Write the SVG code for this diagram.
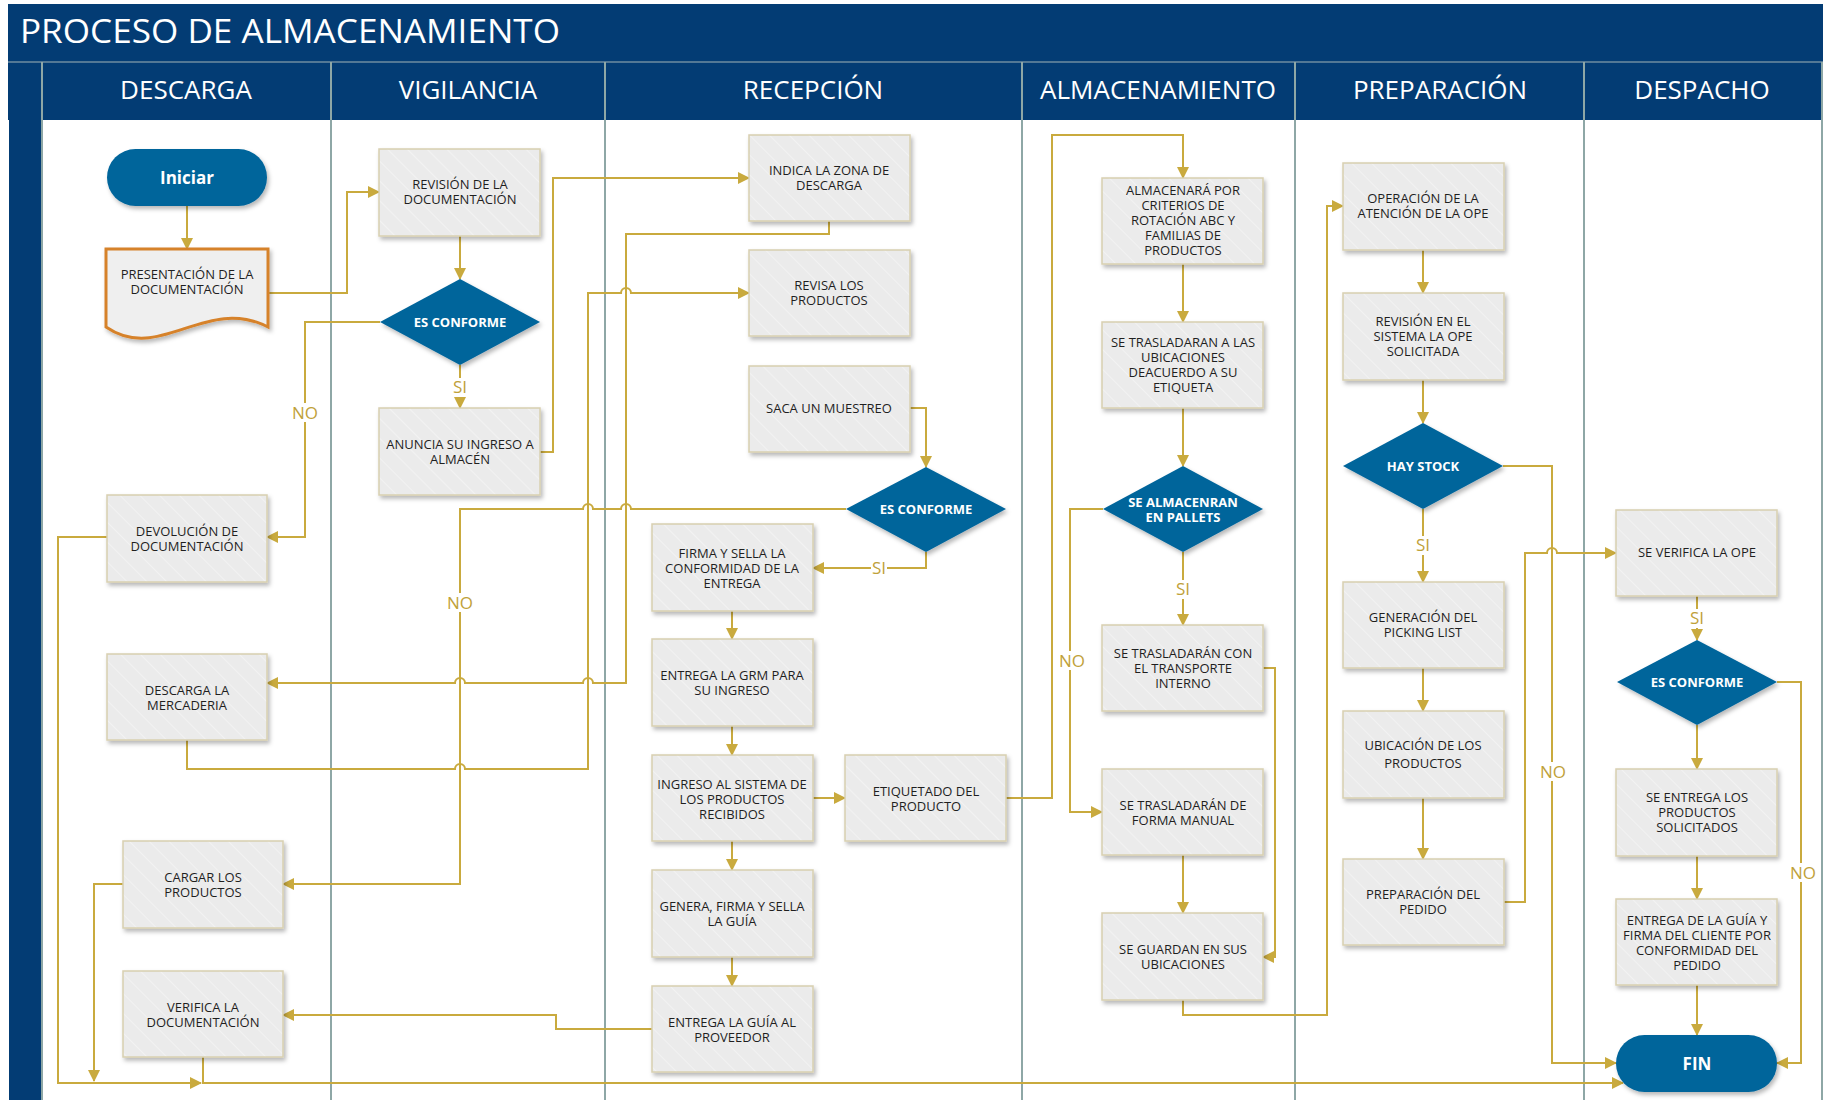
<svg xmlns="http://www.w3.org/2000/svg" width="1827" height="1100" viewBox="0 0 1827 1100">
  <defs>
    <pattern id="hatch" patternUnits="userSpaceOnUse" width="14" height="14" patternTransform="rotate(-45)">
      <rect width="14" height="14" fill="#ebebeb"/>
      <line x1="0" y1="0" x2="0" y2="14" stroke="#f2f2f2" stroke-width="2"/>
    </pattern>
    <filter id="sh" x="-10%" y="-10%" width="125%" height="130%">
      <feDropShadow dx="2" dy="3" stdDeviation="2" flood-color="#000" flood-opacity="0.28"/>
    </filter>
    <marker id="ah" markerUnits="userSpaceOnUse" markerWidth="12" markerHeight="12" refX="11" refY="6" orient="auto">
      <path d="M0,0 L12,6 L0,12 Z" fill="#c9aa3e"/>
    </marker>
  </defs>
  <style>
    .band{fill:#033c74}
    .lane{stroke:#8ea7a6;stroke-width:2;fill:none}
    .hdr{font-family:"Open Sans","Liberation Sans",sans-serif;font-size:26px;fill:#ffffff;text-anchor:middle}
    .box{fill:url(#hatch);stroke:#d8d0b0;stroke-width:1.5;filter:url(#sh)}
    .doc{fill:#efefef;stroke:#d6822c;stroke-width:3;filter:url(#sh)}
    .dec{fill:#04659b;filter:url(#sh)}
    .t{font-family:"Open Sans","Liberation Sans",sans-serif;font-size:13px;fill:#1f1f1f;text-anchor:middle}
    .tw{font-family:"Open Sans","Liberation Sans",sans-serif;font-size:13px;font-weight:700;fill:#ffffff;text-anchor:middle}
    .tb{font-family:"Open Sans","Liberation Sans",sans-serif;font-size:17px;font-weight:700;fill:#ffffff;text-anchor:middle}
    .conn path{fill:none;stroke:#c9aa3e;stroke-width:2}
    .conn path.a{marker-end:url(#ah)}
    .lbl rect{fill:#ffffff}
    .lbl text{font-family:"Open Sans","Liberation Sans",sans-serif;font-size:17px;fill:#bfa13a;text-anchor:middle}
  </style>

  <!-- pool frame -->
  <rect x="0" y="0" width="1827" height="1100" fill="#ffffff"/>
  <rect class="band" x="8" y="4" width="1815" height="58"/>
  <rect class="band" x="8" y="62" width="1815" height="58"/>
  <rect class="band" x="9" y="62" width="33" height="1038"/>
  <line x1="8" y1="62" x2="1823" y2="62" stroke="#6f8ca0" stroke-width="1.5"/>
  <text x="20" y="43" font-family="'Open Sans','Liberation Sans',sans-serif" font-size="32" fill="#ffffff" textLength="540" lengthAdjust="spacingAndGlyphs">PROCESO DE ALMACENAMIENTO</text>

  <!-- lanes -->
  <g id="lanes">
    <path class="lane" d="M42,62 V1100 M331,62 V1100 M605,62 V1100 M1022,62 V1100 M1295,62 V1100 M1584,62 V1100 M1822,62 V1100"/>
    <text class="hdr" x="186" y="99">DESCARGA</text>
    <text class="hdr" x="468" y="99">VIGILANCIA</text>
    <text class="hdr" x="813" y="99">RECEPCIÓN</text>
    <text class="hdr" x="1158" y="99">ALMACENAMIENTO</text>
    <text class="hdr" x="1440" y="99">PREPARACIÓN</text>
    <text class="hdr" x="1702" y="99">DESPACHO</text>
  </g>

  <!-- connectors -->
  <g id="connectors" class="conn">
    <path class="a" d="M187,206 V249"/>
    <path class="a" d="M268,293 H347 V192 H379"/>
    <path class="a" d="M460,236 V279"/>
    <path class="a" d="M460,365 V408"/>
    <path class="a" d="M380,322 H305 V537 H267"/>
    <path class="a" d="M107,537 H58 V1083 H201"/>
    <path class="a" d="M123,884 H94 V1081"/>
    <path class="a" d="M540,452 H553 V178 H749"/>
    <path class="a" d="M829,221 V234 H626 V683 H593 A5,5 0 0 0 583,683 H465 A5,5 0 0 0 455,683 H267"/>
    <path class="a" d="M187,740 V769 H455 A5,5 0 0 1 465,769 H588 V293 H621 A5,5 0 0 1 631,293 H749"/>
    <path class="a" d="M910,408 H926 V467"/>
    <path class="a" d="M846,509 H631 A5,5 0 0 0 621,509 H593 A5,5 0 0 0 583,509 H460 V884 H283"/>
    <path class="a" d="M926,552 V568 H813"/>
    <path class="a" d="M732,611 V639"/>
    <path class="a" d="M732,726 V755"/>
    <path class="a" d="M813,798 H845"/>
    <path class="a" d="M732,841 V870"/>
    <path class="a" d="M732,957 V986"/>
    <path class="a" d="M652,1029 H556 V1015 H283"/>
    <path class="a" d="M1006,798 H1052 V135 H1183 V178"/>
    <path class="a" d="M1183,264 V322"/>
    <path class="a" d="M1183,408 V466"/>
    <path class="a" d="M1183,552 V625"/>
    <path class="a" d="M1103,509 H1070 V812 H1102"/>
    <path class="a" d="M1263,668 H1275 V957 H1263"/>
    <path class="a" d="M1183,855 V913"/>
    <path class="a" d="M1183,1000 V1015 H1327 V206 H1343"/>
    <path class="a" d="M1423,250 V293"/>
    <path class="a" d="M1423,380 V423"/>
    <path class="a" d="M1423,509 V582"/>
    <path class="a" d="M1503,466 H1552 V1063 H1616"/>
    <path class="a" d="M1423,668 V711"/>
    <path class="a" d="M1423,798 V859"/>
    <path class="a" d="M1503,902 H1525 V553 H1547 A5,5 0 0 1 1557,553 H1616"/>
    <path class="a" d="M1697,596 V640"/>
    <path class="a" d="M1697,725 V769"/>
    <path class="a" d="M1777,682 H1801 V1063 H1777"/>
    <path class="a" d="M1697,856 V899"/>
    <path class="a" d="M1697,985 V1035"/>
    <path class="a" d="M203,1057 V1083 H1623"/>
  </g>

  <!-- branch labels -->
  <g id="labels" class="lbl">
    <rect x="452" y="378" width="16" height="19"/><text x="460" y="393">SI</text>
    <rect x="291" y="403" width="28" height="19"/><text x="305" y="419">NO</text>
    <rect x="446" y="593" width="28" height="19"/><text x="460" y="609">NO</text>
    <rect x="871" y="559" width="16" height="19"/><text x="879" y="574">SI</text>
    <rect x="1175" y="580" width="16" height="19"/><text x="1183" y="595">SI</text>
    <rect x="1058" y="651" width="28" height="19"/><text x="1072" y="667">NO</text>
    <rect x="1415" y="536" width="16" height="19"/><text x="1423" y="551">SI</text>
    <rect x="1539" y="762" width="28" height="19"/><text x="1553" y="778">NO</text>
    <rect x="1689" y="609" width="16" height="19"/><text x="1697" y="624">SI</text>
    <rect x="1789" y="863" width="28" height="19"/><text x="1803" y="879">NO</text>
  </g>

  <!-- DESCARGA -->
  <g id="n-iniciar">
    <rect class="dec" x="107" y="149" width="160" height="57" rx="28.5"/>
    <text class="tb" x="187" y="184">Iniciar</text>
  </g>
  <g id="n-presentacion">
    <path class="doc" d="M106,249 H268 V327 C205,295 160,364 106,327 Z"/>
    <text class="t" x="187" y="278.5">PRESENTACIÓN DE LA</text>
    <text class="t" x="187" y="293.5">DOCUMENTACIÓN</text>
  </g>
  <g id="n-devolucion">
    <rect class="box" x="107" y="495" width="160" height="87"/>
    <text class="t" x="187" y="536">DEVOLUCIÓN DE</text>
    <text class="t" x="187" y="551">DOCUMENTACIÓN</text>
  </g>
  <g id="n-descarga">
    <rect class="box" x="107" y="654" width="160" height="86"/>
    <text class="t" x="187" y="694.5">DESCARGA LA</text>
    <text class="t" x="187" y="709.5">MERCADERIA</text>
  </g>
  <g id="n-cargar">
    <rect class="box" x="123" y="841" width="160" height="87"/>
    <text class="t" x="203" y="882">CARGAR LOS</text>
    <text class="t" x="203" y="897">PRODUCTOS</text>
  </g>
  <g id="n-verifica">
    <rect class="box" x="123" y="971" width="160" height="86"/>
    <text class="t" x="203" y="1012">VERIFICA LA</text>
    <text class="t" x="203" y="1027">DOCUMENTACIÓN</text>
  </g>

  <!-- VIGILANCIA -->
  <g id="n-revision">
    <rect class="box" x="379" y="149" width="161" height="87"/>
    <text class="t" x="460" y="188.5">REVISIÓN DE LA</text>
    <text class="t" x="460" y="203.5">DOCUMENTACIÓN</text>
  </g>
  <g id="d-conforme1">
    <polygon class="dec" points="460,279 540,322 460,365 380,322"/>
    <text class="tw" x="460" y="326.5">ES CONFORME</text>
  </g>
  <g id="n-anuncia">
    <rect class="box" x="379" y="408" width="161" height="87"/>
    <text class="t" x="460" y="448.5">ANUNCIA SU INGRESO A</text>
    <text class="t" x="460" y="463.5">ALMACÉN</text>
  </g>

  <!-- RECEPCIÓN -->
  <g id="n-indica">
    <rect class="box" x="749" y="135" width="161" height="86"/>
    <text class="t" x="829" y="174.5">INDICA LA ZONA DE</text>
    <text class="t" x="829" y="189.5">DESCARGA</text>
  </g>
  <g id="n-revisa">
    <rect class="box" x="749" y="250" width="161" height="86"/>
    <text class="t" x="829" y="290">REVISA LOS</text>
    <text class="t" x="829" y="305">PRODUCTOS</text>
  </g>
  <g id="n-muestreo">
    <rect class="box" x="749" y="366" width="161" height="86"/>
    <text class="t" x="829" y="412.5">SACA UN MUESTREO</text>
  </g>
  <g id="d-conforme2">
    <polygon class="dec" points="926,467 1006,509 926,552 846,509"/>
    <text class="tw" x="926" y="513.5">ES CONFORME</text>
  </g>
  <g id="n-firma">
    <rect class="box" x="652" y="524" width="161" height="87"/>
    <text class="t" x="732" y="557.5">FIRMA Y SELLA LA</text>
    <text class="t" x="732" y="572.5">CONFORMIDAD DE LA</text>
    <text class="t" x="732" y="587.5">ENTREGA</text>
  </g>
  <g id="n-grm">
    <rect class="box" x="652" y="639" width="161" height="87"/>
    <text class="t" x="732" y="680">ENTREGA LA GRM PARA</text>
    <text class="t" x="732" y="695">SU INGRESO</text>
  </g>
  <g id="n-ingreso">
    <rect class="box" x="652" y="755" width="161" height="86"/>
    <text class="t" x="732" y="788.5">INGRESO AL SISTEMA DE</text>
    <text class="t" x="732" y="803.5">LOS PRODUCTOS</text>
    <text class="t" x="732" y="818.5">RECIBIDOS</text>
  </g>
  <g id="n-etiquetado">
    <rect class="box" x="845" y="755" width="161" height="86"/>
    <text class="t" x="926" y="795.5">ETIQUETADO DEL</text>
    <text class="t" x="926" y="810.5">PRODUCTO</text>
  </g>
  <g id="n-genera">
    <rect class="box" x="652" y="870" width="161" height="87"/>
    <text class="t" x="732" y="910.5">GENERA, FIRMA Y SELLA</text>
    <text class="t" x="732" y="925.5">LA GUÍA</text>
  </g>
  <g id="n-entrega-guia">
    <rect class="box" x="652" y="986" width="161" height="86"/>
    <text class="t" x="732" y="1026.5">ENTREGA LA GUÍA AL</text>
    <text class="t" x="732" y="1041.5">PROVEEDOR</text>
  </g>

  <!-- ALMACENAMIENTO -->
  <g id="n-almacenara">
    <rect class="box" x="1102" y="178" width="161" height="86"/>
    <text class="t" x="1183" y="195">ALMACENARÁ POR</text>
    <text class="t" x="1183" y="210">CRITERIOS DE</text>
    <text class="t" x="1183" y="225">ROTACIÓN ABC Y</text>
    <text class="t" x="1183" y="240">FAMILIAS DE</text>
    <text class="t" x="1183" y="255">PRODUCTOS</text>
  </g>
  <g id="n-trasladaran">
    <rect class="box" x="1102" y="322" width="161" height="86"/>
    <text class="t" x="1183" y="347">SE TRASLADARAN A LAS</text>
    <text class="t" x="1183" y="362">UBICACIONES</text>
    <text class="t" x="1183" y="377">DEACUERDO A SU</text>
    <text class="t" x="1183" y="392">ETIQUETA</text>
  </g>
  <g id="d-pallets">
    <polygon class="dec" points="1183,466 1263,509 1183,552 1103,509"/>
    <text class="tw" x="1183" y="506.5">SE ALMACENRAN</text>
    <text class="tw" x="1183" y="521.5">EN PALLETS</text>
  </g>
  <g id="n-transporte">
    <rect class="box" x="1102" y="625" width="161" height="86"/>
    <text class="t" x="1183" y="658">SE TRASLADARÁN CON</text>
    <text class="t" x="1183" y="673">EL TRANSPORTE</text>
    <text class="t" x="1183" y="688">INTERNO</text>
  </g>
  <g id="n-manual">
    <rect class="box" x="1102" y="769" width="161" height="86"/>
    <text class="t" x="1183" y="809.5">SE TRASLADARÁN DE</text>
    <text class="t" x="1183" y="824.5">FORMA MANUAL</text>
  </g>
  <g id="n-guardan">
    <rect class="box" x="1102" y="913" width="161" height="87"/>
    <text class="t" x="1183" y="954">SE GUARDAN EN SUS</text>
    <text class="t" x="1183" y="969">UBICACIONES</text>
  </g>

  <!-- PREPARACIÓN -->
  <g id="n-operacion">
    <rect class="box" x="1343" y="163" width="161" height="87"/>
    <text class="t" x="1423" y="203">OPERACIÓN DE LA</text>
    <text class="t" x="1423" y="218">ATENCIÓN DE LA OPE</text>
  </g>
  <g id="n-revision-ope">
    <rect class="box" x="1343" y="293" width="161" height="87"/>
    <text class="t" x="1423" y="326">REVISIÓN EN EL</text>
    <text class="t" x="1423" y="341">SISTEMA LA OPE</text>
    <text class="t" x="1423" y="356">SOLICITADA</text>
  </g>
  <g id="d-stock">
    <polygon class="dec" points="1423,423 1503,466 1423,509 1343,466"/>
    <text class="tw" x="1423" y="470.5">HAY STOCK</text>
  </g>
  <g id="n-picking">
    <rect class="box" x="1343" y="582" width="161" height="86"/>
    <text class="t" x="1423" y="621.5">GENERACIÓN DEL</text>
    <text class="t" x="1423" y="636.5">PICKING LIST</text>
  </g>
  <g id="n-ubicacion">
    <rect class="box" x="1343" y="711" width="161" height="87"/>
    <text class="t" x="1423" y="749.5">UBICACIÓN DE LOS</text>
    <text class="t" x="1423" y="767.5">PRODUCTOS</text>
  </g>
  <g id="n-preparacion">
    <rect class="box" x="1343" y="859" width="161" height="86"/>
    <text class="t" x="1423" y="899">PREPARACIÓN DEL</text>
    <text class="t" x="1423" y="914">PEDIDO</text>
  </g>

  <!-- DESPACHO -->
  <g id="n-verifica-ope">
    <rect class="box" x="1616" y="510" width="161" height="86"/>
    <text class="t" x="1697" y="556.5">SE VERIFICA LA OPE</text>
  </g>
  <g id="d-conforme3">
    <polygon class="dec" points="1697,640 1777,682 1697,725 1617,682"/>
    <text class="tw" x="1697" y="686.5">ES CONFORME</text>
  </g>
  <g id="n-entrega-productos">
    <rect class="box" x="1616" y="769" width="161" height="87"/>
    <text class="t" x="1697" y="802">SE ENTREGA LOS</text>
    <text class="t" x="1697" y="817">PRODUCTOS</text>
    <text class="t" x="1697" y="832">SOLICITADOS</text>
  </g>
  <g id="n-entrega-cliente">
    <rect class="box" x="1616" y="899" width="161" height="86"/>
    <text class="t" x="1697" y="925">ENTREGA DE LA GUÍA Y</text>
    <text class="t" x="1697" y="940">FIRMA DEL CLIENTE POR</text>
    <text class="t" x="1697" y="955">CONFORMIDAD DEL</text>
    <text class="t" x="1697" y="970">PEDIDO</text>
  </g>
  <g id="n-fin">
    <rect class="dec" x="1616" y="1035" width="161" height="57" rx="28.5"/>
    <text class="tb" x="1697" y="1070">FIN</text>
  </g>
</svg>
